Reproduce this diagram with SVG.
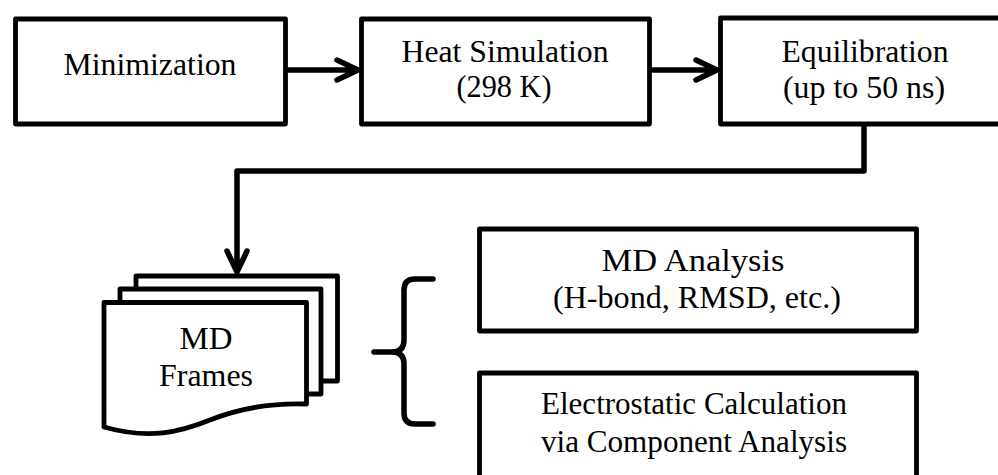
<svg xmlns="http://www.w3.org/2000/svg" width="998" height="475" viewBox="0 0 998 475">
  <style>
    .box { fill: #ffffff; stroke: #000000; stroke-width: 4.8; stroke-linejoin: round; }
    .conn { fill: none; stroke: #000000; stroke-width: 5.5; stroke-linecap: round; stroke-linejoin: round; }
    .lbl { font-family: 'Liberation Serif', 'Times New Roman', 'DejaVu Serif', 'Noto Serif', serif; font-size: 31.5px; fill: #000000; text-anchor: middle; }
  </style>
  <rect width="998" height="475" fill="#ffffff"/>

  <g id="connectors">
    <path class="conn" d="M288,70 H357 M337,60 L358,70 L337,80"/>
    <path class="conn" d="M651,70 H716 M696,60 L717,70 L696,80"/>
    <path class="conn" d="M864,126 V171 H237 V271 M227,251 L237,272 L247,251"/>
    <path id="brace" class="conn" d="M433,279 H415 Q404,279 404,290 V340 Q404,352 392,352 H374 M392,352 Q404,352 404,364 V413 Q404,424 415,424 H433"/>
  </g>

  <g id="minimization">
    <rect class="box" x="15.5" y="19" width="270" height="105"/>
    <text class="lbl" x="150" y="75" textLength="173" lengthAdjust="spacingAndGlyphs">Minimization</text>
  </g>

  <g id="heat">
    <rect class="box" x="361.5" y="19" width="288" height="105"/>
    <text class="lbl" x="505" y="62" textLength="207" lengthAdjust="spacingAndGlyphs">Heat Simulation</text>
    <text class="lbl" x="504" y="97" textLength="95" lengthAdjust="spacingAndGlyphs">(298 K)</text>
  </g>

  <g id="equilibration">
    <rect class="box" x="720.5" y="18" width="300" height="106"/>
    <text class="lbl" x="865" y="62" textLength="167" lengthAdjust="spacingAndGlyphs">Equilibration</text>
    <text class="lbl" x="864" y="98" textLength="162" lengthAdjust="spacingAndGlyphs">(up to 50 ns)</text>
  </g>

  <g id="frames">
    <rect class="box" x="136" y="276" width="201.5" height="105"/>
    <rect class="box" x="120" y="289" width="201" height="105"/>
    <path class="box" d="M104,302.5 H306.5 V404 C275,403 240,408 210,420 C180,432 150,440 104,427 Z"/>
    <text class="lbl" x="206" y="349" textLength="53" lengthAdjust="spacingAndGlyphs">MD</text>
    <text class="lbl" x="206" y="386" textLength="94" lengthAdjust="spacingAndGlyphs">Frames</text>
  </g>

  <g id="md-analysis">
    <rect class="box" x="479.5" y="229" width="437" height="102"/>
    <text class="lbl" x="693" y="271" textLength="183" lengthAdjust="spacingAndGlyphs">MD Analysis</text>
    <text class="lbl" x="697" y="308" textLength="288" lengthAdjust="spacingAndGlyphs">(H-bond, RMSD, etc.)</text>
  </g>

  <g id="electrostatic">
    <rect class="box" x="479.5" y="373" width="437" height="120"/>
    <text class="lbl" x="694" y="414" textLength="306" lengthAdjust="spacingAndGlyphs">Electrostatic Calculation</text>
    <text class="lbl" x="694" y="452" textLength="306" lengthAdjust="spacingAndGlyphs">via Component Analysis</text>
  </g>
</svg>
